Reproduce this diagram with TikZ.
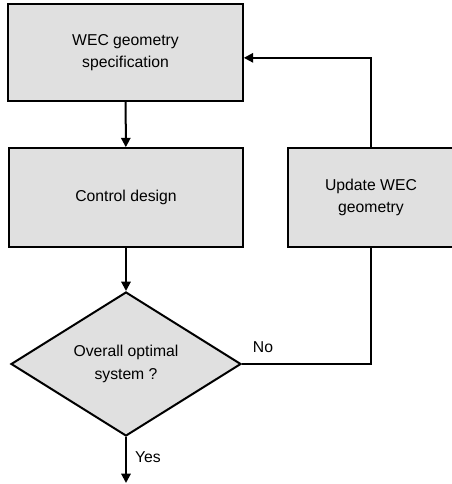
\documentclass[tikz,border=0pt]{standalone}
\usepackage{fontspec}
\setmainfont{Liberation Sans}
\usetikzlibrary{shapes.geometric,arrows.meta}

\definecolor{boxgray}{RGB}{224,224,224}

\tikzset{every picture/.style={line width=1.5pt}}
\tikzset{
  procbox/.style={draw, fill=boxgray, align=center, inner sep=0pt},
  decbox/.style={draw, fill=boxgray, diamond, aspect=1.6, align=center, inner sep=0pt,
                 minimum width=172.5pt, minimum height=108pt},
  flowarr/.style={-{Triangle[length=7pt,width=7pt]}},
  flowtxt/.style={font=\fontsize{11.8}{17}\selectfont}
}

\begin{document}
\begin{tikzpicture}[x=0.75pt,y=0.75pt,yscale=-1,xscale=1]
\useasboundingbox (0,0) rectangle (451,484);

% Blocks
\node [procbox, flowtxt, minimum width=176pt, minimum height=73pt] (spec) at (125.5,52.5) {WEC geometry\\specification};
\node [procbox, flowtxt, minimum width=175.5pt, minimum height=74pt] (ctrl) at (126,197.5) {Control design};
\node [procbox, flowtxt, minimum width=124.5pt, minimum height=74pt] (upd) at (371,197.5) {Update WEC\\geometry};
% Decision
\node [decbox, flowtxt] (opt) at (126,364) {Overall optimal\\system ?};
\coordinate (out) at (126,483);

% Connectors
\draw [flowarr] (spec) -- (ctrl);
\draw [flowarr] (ctrl) -- (opt);
\draw [flowarr] (upd.north) |- ([yshift=4pt]spec.east);
\draw (opt.east) -| (upd.south);
\draw [flowarr] (opt.south) -- (out);

% Text Node
\node [flowtxt] (no) at (263,347) {No};
% Text Node
\node [flowtxt] (yes) at (148,457) {Yes};

\end{tikzpicture}
\end{document}
